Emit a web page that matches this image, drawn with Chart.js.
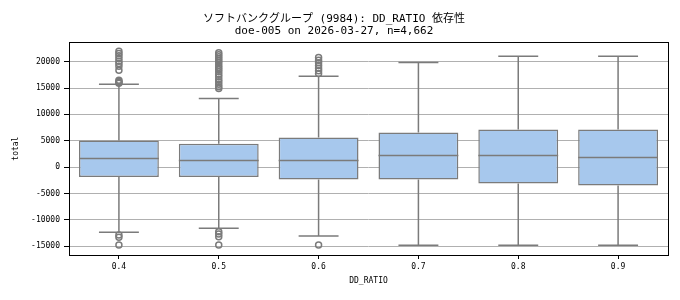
<!DOCTYPE html>
<html><head><meta charset="utf-8">
<script src="https://cdn.jsdelivr.net/npm/chart.js@4/dist/chart.umd.min.js"></script>
<style>html,body{margin:0;padding:0;background:#fff}#wrap{width:680px;height:300px}</style>
</head><body><div id="wrap"><canvas id="c" width="680" height="300"></canvas></div>
<script>
const categories = ['0.4','0.5','0.6','0.7','0.8','0.9'];
const q1 = [-1875,-1875,-2316,-2316,-3074,-3453];
const median = [1661,1282,1282,2229,2229,1850];
const q3 = [5070,4439,5638,6585,7153,7153];
const whiskerLow = [-12354,-11596,-13048,-14816,-14816,-14816];
const whiskerHigh = [15739,13024,17254,19842,21042,21042];
const outliers04 = [21989,21553,21098,20606,20095,19659,19148,18390,16496,16250,16060,15900,-12859,-13300,-14753];
const outliers05 = [21673,21294,20915,20537,20158,19779,19337,18895,18517,18075,17633,17128,16623,16181,15739,15234,14918,-12228,-12670,-13175,-14753];
const outliers06 = [20789,20284,19779,19274,18769,18264,17759,-14753];
const outliers07 = [];
const outliers08 = [];
const outliers09 = [];
const yTicks = [-15000,-10000,-5000,0,5000,10000,15000,20000];
const yMin = -16650, yMax = 23690;
const titleLines = ['ソフトバンクグループ (9984): DD_RATIO 依存性','doe-005 on 2026-03-27, n=4,662'];

const allOutliers = [outliers04,outliers05,outliers06,outliers07,outliers08,outliers09];
const outlierPoints = [];
allOutliers.forEach((arr,i)=>arr.forEach(v=>outlierPoints.push({x:categories[i],y:v})));

const EDGE = '#7b7b7b';
const FONT = "'DejaVu Sans Mono', 'Noto Sans CJK JP', monospace";

const boxPlugin = {
  id:'boxExtras',
  afterDatasetsDraw(chart){
    const {ctx, scales:{x,y}} = chart;
    const meta = chart.getDatasetMeta(0);
    ctx.save();
    ctx.strokeStyle = EDGE;
    ctx.lineWidth = 1.5;
    categories.forEach((c,i)=>{
      const cx = x.getPixelForValue(i);
      const bw = meta.data[i].width;
      const capHalf = bw/4;
      ctx.beginPath();
      ctx.moveTo(cx, y.getPixelForValue(q3[i])); ctx.lineTo(cx, y.getPixelForValue(whiskerHigh[i]));
      ctx.moveTo(cx, y.getPixelForValue(q1[i])); ctx.lineTo(cx, y.getPixelForValue(whiskerLow[i]));
      ctx.moveTo(cx-capHalf, y.getPixelForValue(whiskerHigh[i])); ctx.lineTo(cx+capHalf, y.getPixelForValue(whiskerHigh[i]));
      ctx.moveTo(cx-capHalf, y.getPixelForValue(whiskerLow[i])); ctx.lineTo(cx+capHalf, y.getPixelForValue(whiskerLow[i]));
      ctx.moveTo(cx-bw/2, y.getPixelForValue(median[i])); ctx.lineTo(cx+bw/2, y.getPixelForValue(median[i]));
      ctx.stroke();
    });
    ctx.restore();
  },
  afterDraw(chart){
    const {ctx, chartArea:a} = chart;
    ctx.save();
    ctx.strokeStyle = '#000';
    ctx.lineWidth = 1;
    ctx.strokeRect(Math.round(a.left)+0.5, Math.round(a.top)+0.5, Math.round(a.right-a.left), Math.round(a.bottom-a.top));
    ctx.restore();
  }
};

new Chart(document.getElementById('c'), {
  data:{
    labels:categories,
    datasets:[
      {type:'bar', data:categories.map((c,i)=>[q1[i],q3[i]]), backgroundColor:'#a7c8ed', borderColor:EDGE, borderWidth:1.5, borderSkipped:false, barPercentage:0.8, categoryPercentage:1, order:2},
      {type:'line', data:outlierPoints, showLine:false, pointStyle:'circle', pointRadius:3, pointBorderWidth:1.5, pointBorderColor:EDGE, pointBackgroundColor:'rgba(0,0,0,0)', order:1}
    ]
  },
  options:{
    responsive:false, animation:false, devicePixelRatio:1,
    layout:{padding:{left:0,right:12,top:0,bottom:0}},
    plugins:{
      legend:{display:false}, tooltip:{enabled:false},
      title:{display:true, text:titleLines, color:'#000', font:{family:FONT, size:11, weight:'normal', lineHeight:1.1}, padding:{top:13,bottom:5}}
    },
    scales:{
      x:{type:'category', offset:true,
        grid:{display:true, offset:false, drawOnChartArea:false, drawTicks:true, tickLength:4, tickColor:'#000'},
        border:{display:false},
        ticks:{color:'#000', font:{family:FONT,size:8}, padding:3, maxRotation:0},
        title:{display:true, text:'DD_RATIO', color:'#000', font:{family:FONT,size:8}, padding:{top:0,bottom:14}},
        afterFit(s){ s.height = 45; }
      },
      y:{type:'linear', min:yMin, max:yMax,
        afterBuildTicks(s){ s.ticks = yTicks.map(v=>({value:v})); },
        grid:{color:'#b0b0b0', lineWidth:1, drawTicks:true, tickLength:5, tickColor:'#000'},
        border:{display:false},
        ticks:{color:'#000', font:{family:FONT,size:8}, padding:4, callback:v=>String(v)},
        title:{display:true, text:'total', color:'#000', font:{family:FONT,size:8}, padding:{top:11,bottom:0}},
        afterFit(s){ s.width = 69; }
      }
    }
  },
  plugins:[boxPlugin]
});
</script></body></html>
